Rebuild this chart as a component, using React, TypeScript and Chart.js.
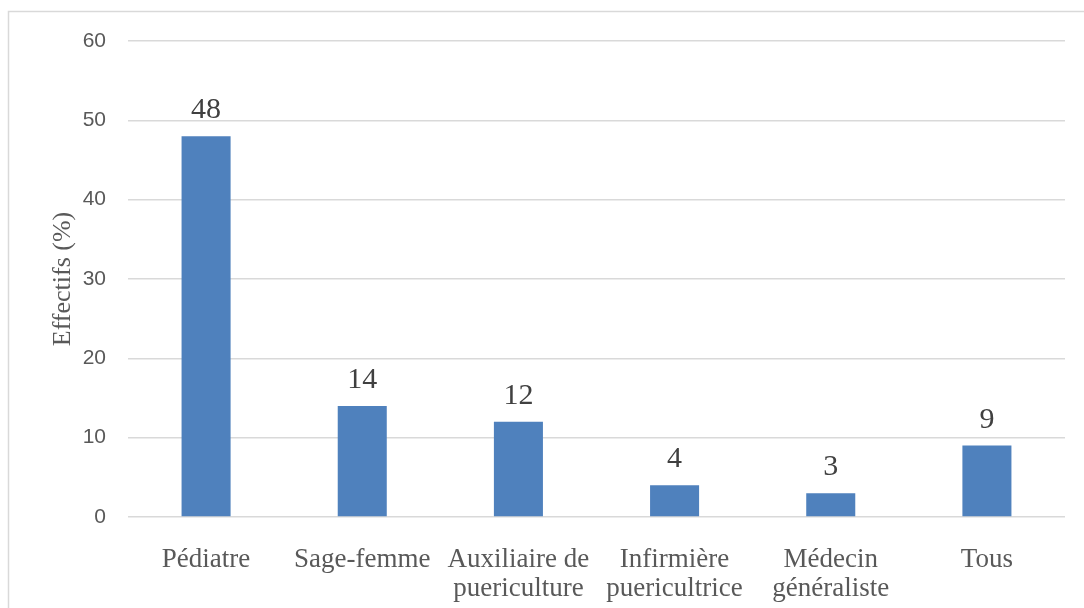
import React, { useEffect, useRef } from "react";
import { Chart, registerables } from "chart.js";

Chart.register(...registerables);

const categories: (string | string[])[] = [
  "Pédiatre",
  "Sage-femme",
  ["Auxiliaire de", "puericulture"],
  ["Infirmière", "puericultrice"],
  ["Médecin", "généraliste"],
  "Tous",
];
const values: number[] = [48, 14, 12, 4, 3, 9];
const yTitle = "Effectifs (%)";
const yMin = 0;
const yMax = 60;
const yStep = 10;

const barColor = "#4F81BD";
const gridColor = "#d9d9d9";
const textColor = "#595959";
const labelColor = "#404040";

const borderPlugin = {
  id: "outerBorder",
  beforeDraw(chart: any) {
    const ctx = chart.ctx;
    ctx.save();
    ctx.fillStyle = "#ffffff";
    ctx.fillRect(0, 0, chart.width, chart.height);
    ctx.strokeStyle = gridColor;
    ctx.lineWidth = 1.5;
    ctx.strokeRect(8.5, 11.5, chart.width + 20, chart.height + 20);
    ctx.restore();
  },
};

const dataLabelPlugin = {
  id: "dataLabels",
  afterDatasetsDraw(chart: any) {
    const ctx = chart.ctx;
    const meta = chart.getDatasetMeta(0);
    ctx.save();
    ctx.font = "30px 'Liberation Serif', 'Times New Roman', serif";
    ctx.fillStyle = labelColor;
    ctx.textAlign = "center";
    ctx.textBaseline = "alphabetic";
    meta.data.forEach((bar: any, i: number) => {
      const v = chart.data.datasets[0].data[i];
      ctx.fillText(String(v), bar.x, bar.y - 18);
    });
    ctx.restore();
  },
};

export default function App() {
  const ref = useRef<HTMLCanvasElement | null>(null);
  useEffect(() => {
    if (!ref.current) return;
    const chart = new Chart(ref.current, {
      type: "bar",
      data: {
        labels: categories,
        datasets: [
          {
            data: values,
            backgroundColor: barColor,
            borderWidth: 0,
            barPercentage: 0.314,
            categoryPercentage: 1,
          },
        ],
      },
      options: {
        animation: false,
        responsive: false,
        maintainAspectRatio: false,
        layout: { padding: { left: 0, right: 19, top: 41, bottom: 0 } },
        plugins: {
          legend: { display: false },
          tooltip: { enabled: false },
        },
        scales: {
          x: {
            grid: { display: false },
            border: { display: false },
            ticks: {
              color: textColor,
              font: { family: "'Liberation Serif', 'Times New Roman', serif", size: 27, lineHeight: 1.05 },
              maxRotation: 0,
              minRotation: 0,
              autoSkip: false,
              padding: 21,
            },
            afterFit: (s: any) => {
              s.height = 91;
            },
          },
          y: {
            min: yMin,
            max: yMax,
            grid: { color: gridColor, lineWidth: 1.5, drawTicks: false },
            border: { display: false },
            ticks: {
              stepSize: yStep,
              color: textColor,
              font: { family: "'Liberation Sans', Arial, sans-serif", size: 21 },
              padding: 22,
            },
            title: {
              display: true,
              text: yTitle,
              color: textColor,
              font: { family: "'Liberation Serif', 'Times New Roman', serif", size: 26, lineHeight: 1.2 },
              padding: { top: 48, bottom: 0 },
            },
            afterFit: (s: any) => {
              s.width = 128;
            },
          },
        },
      },
      plugins: [borderPlugin, dataLabelPlugin],
    });
    return () => chart.destroy();
  }, []);
  return (
    <canvas
      ref={ref}
      width={1084}
      height={608}
      style={{ position: "fixed", left: 0, top: 0, width: 1084, height: 608 }}
    />
  );
}
